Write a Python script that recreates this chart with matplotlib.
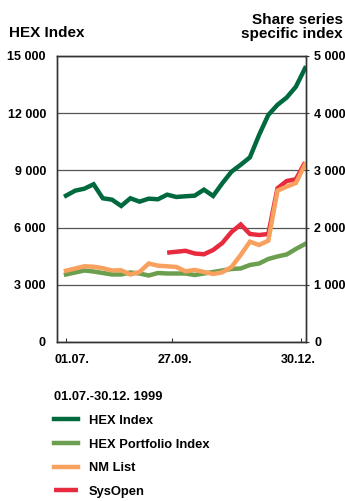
import numpy as np
import matplotlib
matplotlib.use('Agg')
import matplotlib.pyplot as plt
from matplotlib.ticker import FuncFormatter

plt.rcParams['font.family'] = ['Liberation Sans', 'DejaVu Sans']
plt.rcParams['font.weight'] = 'bold'

# weekly observations, 01.07.-30.12.1999
weeks = np.arange(27)

hex_index = [7673, 7936, 8041, 8271, 7537, 7464, 7133, 7537, 7359, 7516,
             7485, 7726, 7605, 7642, 7673, 7988, 7658, 8324, 8932, 9294,
             9682, 10857, 11906, 12436, 12819, 13385, 14356]

# share series specific indices (right scale)
hex_portfolio = [1180, 1215, 1250, 1232, 1206, 1180, 1180, 1215, 1197, 1162,
                 1206, 1197, 1197, 1197, 1171, 1197, 1224, 1250, 1276, 1285,
                 1346, 1372, 1451, 1495, 1530, 1626, 1713]

nm_list = [1246, 1285, 1323, 1316, 1290, 1250, 1253, 1180, 1224, 1372,
           1334, 1323, 1311, 1236, 1259, 1224, 1189, 1218, 1311, 1521,
           1753, 1696, 1771, 2645, 2715, 2779, 3106]

# SysOpen listed from mid-September
sysopen = [np.nan] * 11 + [1561, 1577, 1594, 1547, 1533, 1608, 1731, 1923,
                           2054, 1888, 1870, 1888, 2687, 2814, 2844, 3141]

tick_pos = [0, 11.5, 25.6]
label_pos = [0.65, 11.85, 25.2]
tick_labels = ['01.07.', '27.09.', '30.12.']

c_hex = '#006a3e'
c_port = '#6b9e4e'
c_nm = '#f8a05e'
c_sys = '#e72a3e'
lw = 3.2


def thousands(v, pos):
    return f'{int(v):,}'.replace(',', ' ')


fig = plt.figure(figsize=(3.45, 5.01), dpi=100)
ax = fig.add_axes([0.1652, 0.3174, 0.7217, 0.5709])
ax2 = ax.twinx()

l_hex, = ax.plot(weeks, hex_index, color=c_hex, lw=lw, label='HEX Index',
                 solid_joinstyle='miter')
l_port, = ax2.plot(weeks, hex_portfolio, color=c_port, lw=lw,
                   label='HEX Portfolio Index', solid_joinstyle='miter')
l_sys, = ax2.plot(weeks, sysopen, color=c_sys, lw=lw, label='SysOpen',
                  solid_joinstyle='miter', solid_capstyle='butt')
l_nm, = ax2.plot(weeks, nm_list, color=c_nm, lw=lw, label='NM List',
                 solid_joinstyle='miter')

ax.set_xlim(-0.98, 26.1)
ax.set_ylim(0, 15000)
ax2.set_ylim(0, 5000)
ax.set_yticks(np.arange(0, 15001, 3000))
ax2.set_yticks(np.arange(0, 5001, 1000))
ax.yaxis.set_major_formatter(FuncFormatter(thousands))
ax2.yaxis.set_major_formatter(FuncFormatter(thousands))

ax.yaxis.grid(True, color='#555555', lw=0.9)
ax.set_axisbelow(True)

ax.set_xticks(tick_pos)
ax.set_xticklabels([])
ax.set_xticks(label_pos, minor=True)
ax.set_xticklabels(tick_labels, minor=True)
ax.tick_params(axis='x', which='major', direction='in', length=3,
               color='#333333', width=0.8)
ax.tick_params(axis='x', which='minor', length=0, pad=9, labelsize=9)
ax.tick_params(axis='y', length=0, pad=8, labelsize=9)
ax2.tick_params(axis='y', length=2, pad=4, labelsize=9, color='#333333')

for a in (ax, ax2):
    for s in a.spines.values():
        s.set_color('#333333')
        s.set_linewidth(1.0)

fig.text(0.026, 0.927, 'HEX Index', fontsize=11, fontweight='bold',
         ha='left', va='baseline')
fig.text(0.994, 0.925, 'Share series\nspecific index', fontsize=11,
         fontweight='bold', ha='right', va='baseline', linespacing=0.95)

leg = fig.legend(handles=[l_hex, l_port, l_nm, l_sys],
                 title='01.07.-30.12. 1999', loc='upper left',
                 bbox_to_anchor=(0.1565, 0.219), frameon=False,
                 fontsize=9.3, title_fontsize=9.3, alignment='left',
                 borderpad=0, borderaxespad=0, handlelength=1.85,
                 handletextpad=0.85, labelspacing=0.9)
leg.get_title().set_fontweight('bold')

fig.savefig('out.png', dpi=100)
